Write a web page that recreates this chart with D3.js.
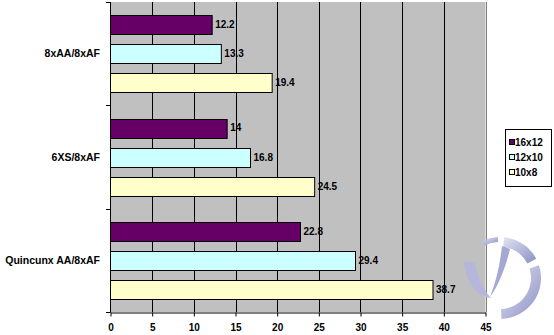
<!DOCTYPE html>
<html><head><meta charset="utf-8">
<script src="https://cdn.jsdelivr.net/npm/d3@7"></script>
<style>
html,body{margin:0;padding:0;background:#fff;}
svg{display:block;}
text{font-family:Arial,"Liberation Sans",sans-serif;font-weight:bold;font-size:10px;fill:#000;}
</style></head>
<body>
<svg id="c" width="554" height="335"></svg>
<script>
const categories = ["8xAA/8xAF", "6XS/8xAF", "Quincunx AA/8xAF"];
const series = ["16x12", "12x10", "10x8"];
const values16x12 = [12.2, 14, 22.8];
const values12x10 = [13.3, 16.8, 29.4];
const values10x8 = [19.4, 24.5, 38.7];
const tickLabels = [0, 5, 10, 15, 20, 25, 30, 35, 40, 45];
const colors = ["#660066", "#CCFFFF", "#FFFFCC"];

const seriesValues = [values16x12, values12x10, values10x8];
const svg = d3.select("#c");

const x = d3.scaleLinear().domain([0, 45]).range([110.5, 485.5]);
const y = d3.scaleBand().domain(categories).range([2, 312]);
const inner = d3.scaleBand().domain(series).range([0, y.bandwidth()])
  .paddingInner(0.345).paddingOuter(0.454);

// plot background
svg.append("rect").attr("x", x(0)).attr("y", 2).attr("width", x(45) - x(0)).attr("height", 310)
  .attr("fill", "#C0C0C0");

// gridlines
svg.append("g").selectAll("line").data(tickLabels.filter(d => d > 0)).join("line")
  .attr("x1", d => Math.round(x(d)) + 0.5).attr("x2", d => Math.round(x(d)) + 0.5)
  .attr("y1", 2).attr("y2", 312)
  .attr("stroke", d => d === 45 ? "#808080" : "#000").attr("stroke-width", 1);

// bars
const rows = [];
categories.forEach((c, ci) => series.forEach((s, si) => rows.push({c, s, si, v: seriesValues[si][ci]})));
svg.append("g").selectAll("rect").data(rows).join("rect")
  .attr("x", x(0))
  .attr("y", d => Math.round(y(d.c) + inner(d.s)) + 0.5)
  .attr("width", d => x(d.v) - x(0))
  .attr("height", Math.round(inner.bandwidth()))
  .attr("fill", d => colors[d.si]).attr("stroke", "#000").attr("stroke-width", 1);

// data labels
svg.append("g").selectAll("text").data(rows).join("text")
  .attr("x", d => x(d.v) + 3)
  .attr("y", d => y(d.c) + inner(d.s) + inner.bandwidth() / 2)
  .attr("dy", "0.35em")
  .text(d => d.v);

// x axis
const xa = svg.append("g").attr("transform", "translate(0,312.5)")
  .call(d3.axisBottom(x).tickValues(tickLabels).tickSize(4).tickSizeOuter(0).tickPadding(7).tickFormat(d => d));
xa.select(".domain").attr("stroke", "#000");
xa.selectAll(".tick line").attr("stroke", "#000");
xa.selectAll("text").attr("font-family", "Arial, 'Liberation Sans', sans-serif").attr("font-weight", "bold").attr("font-size", "10px");

// y axis
const ya = svg.append("g");
ya.append("line").attr("x1", 110.5).attr("x2", 110.5).attr("y1", 2).attr("y2", 312.5).attr("stroke", "#000");
const bounds = categories.map(c => y(c)).concat([y.range()[1]]);
ya.selectAll("line.t").data(bounds).join("line").attr("class", "t")
  .attr("x1", 106).attr("x2", 110.5)
  .attr("y1", d => Math.round(d) + 0.5).attr("y2", d => Math.round(d) + 0.5).attr("stroke", "#000");
ya.selectAll("text").data(categories).join("text")
  .attr("x", 100).attr("y", c => y(c) + y.bandwidth() / 2).attr("dy", "0.35em")
  .attr("text-anchor", "end").style("font-size", "10.5px").text(c => c);

// legend
const lg = svg.append("g");
lg.append("rect").attr("x", 505.5).attr("y", 129.5).attr("width", 46).attr("height", 57)
  .attr("fill", "#fff").attr("stroke", "#000");
series.forEach((s, i) => {
  const cy = 142 + i * 15;
  lg.append("rect").attr("x", 509.5).attr("y", cy - 2.5).attr("width", 5).attr("height", 5)
    .attr("fill", colors[i]).attr("stroke", "#000");
  lg.append("text").attr("x", 515).attr("y", cy).attr("dy", "0.35em").text(s);
});

// watermark logo
const defs = svg.append("defs");
const gr = defs.append("linearGradient").attr("id", "wm").attr("x1", "0").attr("y1", "0").attr("x2", "1").attr("y2", "1");
gr.append("stop").attr("offset", "0").attr("stop-color", "#dfe0f0");
gr.append("stop").attr("offset", "0.6").attr("stop-color", "#a9acd4");
gr.append("stop").attr("offset", "1").attr("stop-color", "#8085bb");
const wm = svg.append("g").attr("opacity", 0.92).attr("fill", "url(#wm)");
const ring = wm.append("g").attr("transform", "translate(500,278)");
const deg = Math.PI / 180;
const arc = d3.arc();
ring.append("path").attr("d", arc({innerRadius: 31, outerRadius: 41, startAngle: 6 * deg, endAngle: 62 * deg}));
ring.append("path").attr("d", arc({innerRadius: 31, outerRadius: 41, startAngle: 72 * deg, endAngle: 178 * deg}));
ring.append("path").attr("d", arc({innerRadius: 36, outerRadius: 41, startAngle: -26 * deg, endAngle: -3 * deg}));
wm.append("path").attr("fill", "#b4b7dc").attr("d", "M464,262 C466,284 478,296 491,298 C484,290 477,278 475,262 Z");
wm.append("path").attr("fill", "#9ea2cf").attr("d", "M502,246 C500,265 496,282 490,297 C499,285 506,266 510,249 Z");
</script>
</body></html>
